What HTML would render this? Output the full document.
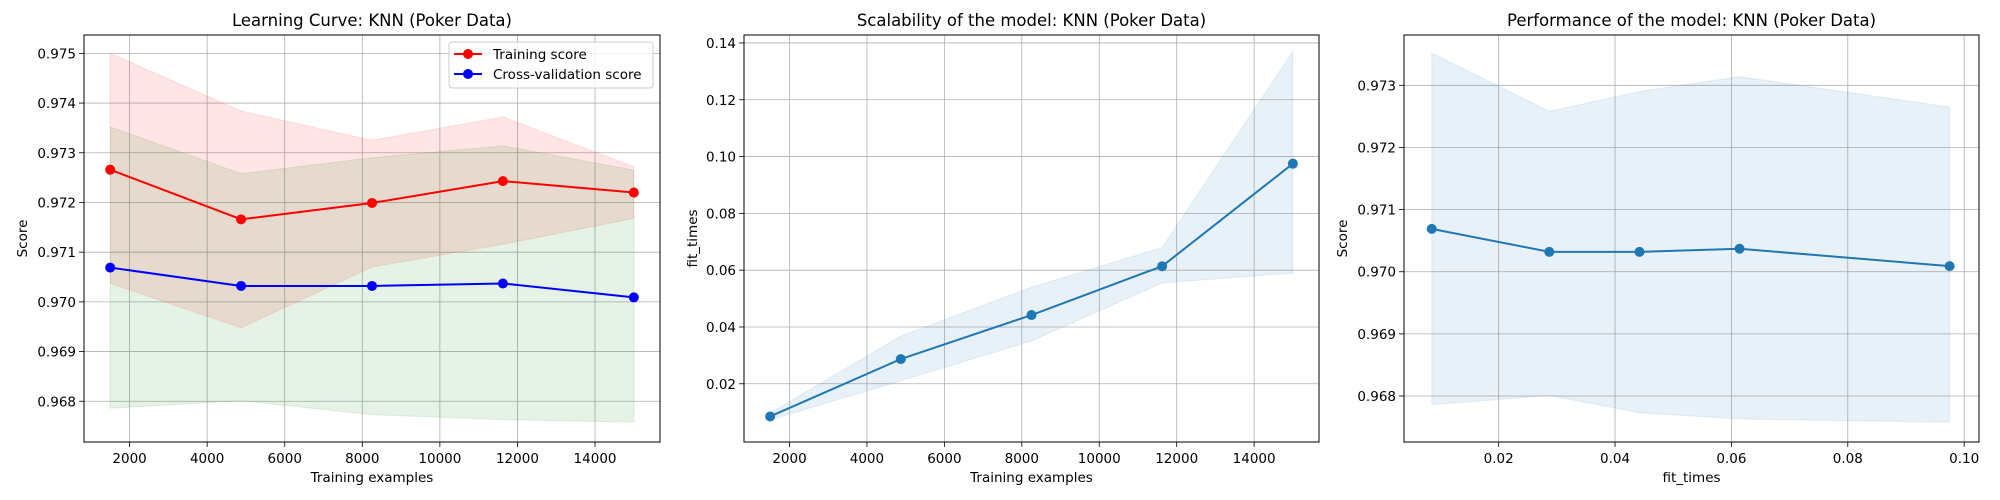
<!DOCTYPE html>
<html><head><meta charset="utf-8"><style>
html,body{margin:0;padding:0;background:#fff;}
svg{display:block;font-family:"DejaVu Sans","Liberation Sans",sans-serif;}
</style></head><body>
<svg id="fig" width="2000" height="500" viewBox="0 0 2000 500" xmlns="http://www.w3.org/2000/svg"></svg>
<script>
const trainSizes = [1500, 4875, 8250, 11625, 15000];
const trainMean = [0.97266, 0.97166, 0.97199, 0.97243, 0.97220];
const trainUpper = [0.97500, 0.97384, 0.97325, 0.97372, 0.97272];
const trainLower = [0.97037, 0.96948, 0.97070, 0.97116, 0.97168];
const cvMean = [0.97069, 0.97032, 0.97032, 0.97037, 0.97009];
const cvUpper = [0.97352, 0.97258, 0.97290, 0.97314, 0.97265];
const cvLower = [0.96786, 0.96801, 0.96773, 0.96763, 0.96758];
const fitMean = [0.0085, 0.0287, 0.0442, 0.0614, 0.0975];
const fitUpper = [0.0097, 0.0368, 0.0540, 0.0680, 0.1370];
const fitLower = [0.0073, 0.0210, 0.0351, 0.0555, 0.0590];
const xTicks1 = [2000, 4000, 6000, 8000, 10000, 12000, 14000];
const yTicks1 = [0.968, 0.969, 0.970, 0.971, 0.972, 0.973, 0.974, 0.975];
const yTicks2 = [0.02, 0.04, 0.06, 0.08, 0.10, 0.12, 0.14];
const xTicks3 = [0.02, 0.04, 0.06, 0.08, 0.10];
const yTicks3 = [0.968, 0.969, 0.970, 0.971, 0.972, 0.973];

const NS = "http://www.w3.org/2000/svg";
const svg = document.getElementById('fig');
function mk(tag, attrs, parent, name){
  const e = document.createElementNS(NS, tag);
  for (const k in attrs) e.setAttribute(k, attrs[k]);
  
  
  (parent || svg).appendChild(e);
  return e;
}
function txt(s, attrs, name){ const t = mk('text', attrs, svg, name); t.textContent = s; return t; }

function axes(o){
  const g = mk('g', {}, svg, o.name);
  const sx = v => o.x0 + (v - o.xmin) / (o.xmax - o.xmin) * (o.x1 - o.x0);
  const sy = v => o.y1 - (v - o.ymin) / (o.ymax - o.ymin) * (o.y1 - o.y0);
  o.xt.forEach(v => {
    const x = sx(v);
    mk('line', {x1:x, x2:x, y1:o.y0, y2:o.y1, stroke:'#b0b0b0', 'stroke-width':0.8}, g, 'x-gridline');
    mk('line', {x1:x, x2:x, y1:o.y1, y2:o.y1+5, stroke:'#000', 'stroke-width':0.8}, g, 'x-tick');
    txt(o.xf(v), {x:x, y:o.y1+21, 'font-size':13.5, 'text-anchor':'middle', fill:'#000'}, 'x-tick-label');
  });
  o.yt.forEach(v => {
    const y = sy(v);
    mk('line', {x1:o.x0, x2:o.x1, y1:y, y2:y, stroke:'#b0b0b0', 'stroke-width':0.8}, g, 'y-gridline');
    mk('line', {x1:o.x0-5, x2:o.x0, y1:y, y2:y, stroke:'#000', 'stroke-width':0.8}, g, 'y-tick');
    txt(o.yf(v), {x:o.x0-8, y:y+5, 'font-size':13.5, 'text-anchor':'end', fill:'#000'}, 'y-tick-label');
  });
  txt(o.title, {x:(o.x0+o.x1)/2, y:o.y0-9, 'font-size':16.5, 'text-anchor':'middle'}, 'chart-title');
  txt(o.xl, {x:(o.x0+o.x1)/2, y:o.y1+40, 'font-size':13.5, 'text-anchor':'middle'}, 'x-axis-title');
  const yx = o.x0 - o.ylOff;
  txt(o.yl, {x:yx, y:(o.y0+o.y1)/2, 'font-size':13.5, 'text-anchor':'middle', transform:`rotate(-90 ${yx} ${(o.y0+o.y1)/2})`}, 'y-axis-title');
  return {g, sx, sy, o};
}
function band(ax, xs, lo, hi, color, op, name){
  let d = xs.map((x,i)=>(i?'L':'M')+ax.sx(x)+','+ax.sy(hi[i])).join('');
  for (let i = xs.length-1; i >= 0; i--) d += 'L'+ax.sx(xs[i])+','+ax.sy(lo[i]);
  d += 'Z';
  mk('path', {d, fill:color, 'fill-opacity':op, stroke:color, 'stroke-opacity':op, 'stroke-width':1}, ax.g, name);
}
function series(ax, xs, ys, color, name){
  mk('polyline', {points: xs.map((x,i)=>ax.sx(x)+','+ax.sy(ys[i])).join(' '), fill:'none', stroke:color, 'stroke-width':2}, ax.g, name+'-line');
  xs.forEach((x,i)=> mk('circle', {cx:ax.sx(x), cy:ax.sy(ys[i]), r:5, fill:color}, ax.g, name+'-point'));
}
function frame(ax){
  const o = ax.o;
  mk('rect', {x:o.x0, y:o.y0, width:o.x1-o.x0, height:o.y1-o.y0, fill:'none', stroke:'#000', 'stroke-width':1}, ax.g, 'axes-frame');
}

// Panel 1
const a1 = axes({name:'learning-curve-panel', x0:84, x1:660, y0:35, y1:442, xmin:825, xmax:15675, ymin:0.96718, ymax:0.97537,
  xt:xTicks1, yt:yTicks1, xf:v=>String(v), yf:v=>v.toFixed(3), title:'Learning Curve: KNN (Poker Data)', xl:'Training examples', yl:'Score', ylOff:57});
band(a1, trainSizes, trainLower, trainUpper, '#ff0000', 0.1, 'training-score-band');
band(a1, trainSizes, cvLower, cvUpper, '#008000', 0.1, 'cv-score-band');
series(a1, trainSizes, trainMean, '#ff0000', 'training-score');
series(a1, trainSizes, cvMean, '#0000ff', 'cv-score');
frame(a1);
// legend
const lg = mk('g', {}, svg, 'legend');
mk('rect', {x:449, y:42, width:204, height:46, rx:3, fill:'#fff', 'fill-opacity':0.8, stroke:'#ccc', 'stroke-width':1}, lg, 'legend-box');
mk('line', {x1:454, x2:482, y1:54, y2:54, stroke:'#ff0000', 'stroke-width':2}, lg, 'legend-training-line');
mk('circle', {cx:468, cy:54, r:5, fill:'#ff0000'}, lg, 'legend-training-marker');
mk('line', {x1:454, x2:482, y1:74, y2:74, stroke:'#0000ff', 'stroke-width':2}, lg, 'legend-cv-line');
mk('circle', {cx:468, cy:74, r:5, fill:'#0000ff'}, lg, 'legend-cv-marker');
txt('Training score', {x:493, y:59, 'font-size':13.5}, 'legend-training-label');
txt('Cross-validation score', {x:493, y:79, 'font-size':13.5}, 'legend-cv-label');

// Panel 2
const a2 = axes({name:'scalability-panel', x0:744, x1:1319, y0:35, y1:442, xmin:825, xmax:15675, ymin:-0.0005, ymax:0.1428,
  xt:xTicks1, yt:yTicks2, xf:v=>String(v), yf:v=>v.toFixed(2), title:'Scalability of the model: KNN (Poker Data)', xl:'Training examples', yl:'fit_times', ylOff:47});
band(a2, trainSizes, fitLower, fitUpper, '#1f77b4', 0.1, 'fit-times-band');
series(a2, trainSizes, fitMean, '#1f77b4', 'fit-times');
frame(a2);

// Panel 3
const a3 = axes({name:'performance-panel', x0:1404, x1:1979, y0:35, y1:442, xmin:0.00373, xmax:0.10255, ymin:0.96726, ymax:0.97381,
  xt:xTicks3, yt:yTicks3, xf:v=>v.toFixed(2), yf:v=>v.toFixed(3), title:'Performance of the model: KNN (Poker Data)', xl:'fit_times', yl:'Score', ylOff:57});
band(a3, fitMean, cvLower, cvUpper, '#1f77b4', 0.1, 'score-band');
series(a3, fitMean, cvMean, '#1f77b4', 'score');
frame(a3);
</script>
</body></html>
